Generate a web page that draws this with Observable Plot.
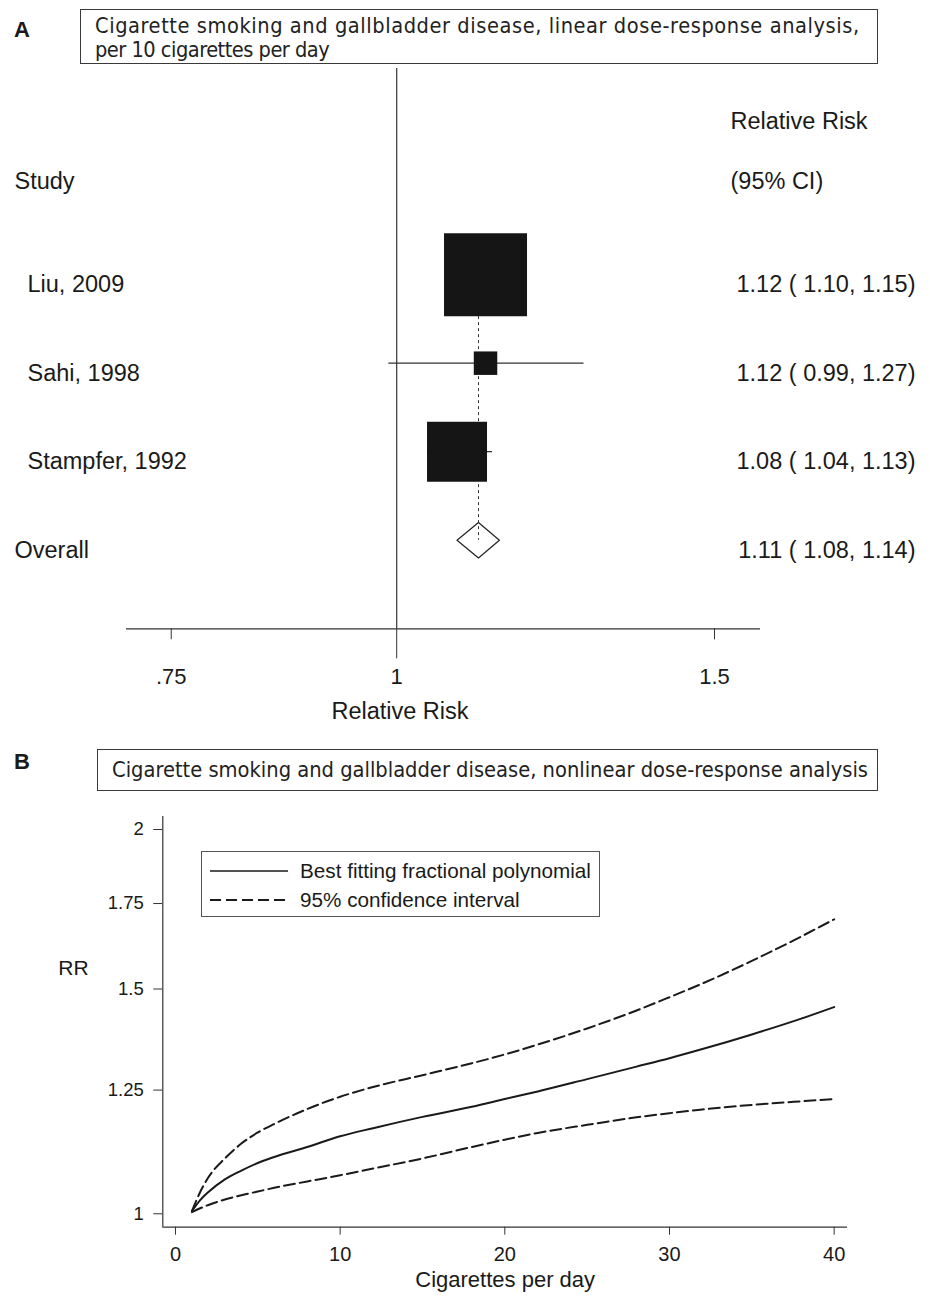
<!DOCTYPE html>
<html>
<head>
<meta charset="utf-8">
<script src="https://cdn.jsdelivr.net/npm/d3@7"></script>
<script src="https://cdn.jsdelivr.net/npm/@observablehq/plot@0.6"></script>
<style>
  body { margin: 0; background: #fff; }
  #page { position: relative; width: 930px; height: 1300px; overflow: hidden;
          font-family: "Liberation Sans", Arial, sans-serif; color: #1a1a1a; }
  .tag { position: absolute; left: 14px; font: bold 22px "Liberation Sans", Arial, sans-serif; line-height: 22px; }
  .title-box { position: absolute; box-sizing: border-box; border: 1.3px solid #3a3a3a;
               font-family: "DejaVu Sans Condensed", "DejaVu Sans", sans-serif;
               line-height: 24px; padding-left: 14px; color: #222; white-space: nowrap; }
  .panel { position: absolute; left: 0; }
  .panel svg { overflow: visible; }
  .legend { position: absolute; box-sizing: border-box; border: 1.2px solid #555; background: #fff;
            font-family: "Liberation Sans", Arial, sans-serif; font-size: 20.7px; color: #1a1a1a; }
  .legend .row { position: absolute; left: 0; height: 24px; line-height: 24px; white-space: nowrap; }
  .legend svg { position: absolute; left: 8px; top: 0; }
  .legend span { position: absolute; left: 98px; top: 0; }
</style>
</head>
<body>
<div id="page">
  <div class="tag" style="top:19px">A</div>
  <div class="title-box" style="left:80px;top:9px;width:798px;height:55px;padding-top:4px;font-size:21.6px">
    <span style="letter-spacing:0.58px">Cigarette smoking and gallbladder disease, linear dose-response analysis,</span><br><span style="letter-spacing:-0.5px">per 10 cigarettes per day</span>
  </div>
  <div class="tag" style="top:751px">B</div>
  <div class="title-box" style="left:97px;top:749px;width:781px;height:42px;padding-top:8px;font-size:21.7px">
    Cigarette smoking and gallbladder disease, nonlinear dose-response analysis
  </div>
  <div class="panel" id="panelA" style="top:68px"></div>
  <div class="panel" id="panelB" style="top:800px"></div>
</div>
<script>
// ---- Panel A: linear dose-response, per 10 cigarettes per day ----
const studies      = ["Liu, 2009", "Sahi, 1998", "Stampfer, 1992"];
const studyRR      = [1.12, 1.12, 1.08];
const studyLower   = [1.10, 0.99, 1.04];
const studyUpper   = [1.15, 1.27, 1.13];
const studyWeight  = [62.4, 5.0, 32.6];   // % weight, drives box area
const overallLabel = "Overall";
const overallRR    = 1.11;
const overallLower = 1.08;
const overallUpper = 1.14;
const forestTicks      = [0.75, 1, 1.5];
const forestTickLabels = [".75", "1", "1.5"];

// ---- Panel B: nonlinear dose-response (fractional polynomial) ----
const cigsPerDay = [1, 1.5, 2, 3, 4, 5, 6, 8, 10, 12, 15, 18, 20, 22, 25, 28, 30, 32, 35, 38, 40];
const rrFit      = [1.005, 1.025, 1.040, 1.064, 1.081, 1.096, 1.108, 1.128, 1.150, 1.167, 1.191, 1.213,
                    1.230, 1.247, 1.275, 1.304, 1.324, 1.346, 1.382, 1.422, 1.452];
const rrUpper    = [1.005, 1.040, 1.068, 1.105, 1.135, 1.158, 1.176, 1.208, 1.235, 1.257, 1.284, 1.312,
                    1.333, 1.357, 1.397, 1.443, 1.478, 1.515, 1.578, 1.649, 1.701];
const rrLower    = [1.003, 1.010, 1.016, 1.026, 1.034, 1.041, 1.048, 1.060, 1.072, 1.085, 1.105, 1.128,
                    1.143, 1.157, 1.174, 1.190, 1.199, 1.207, 1.217, 1.225, 1.230];
const xTicksB      = [0, 10, 20, 30, 40];
const yTicksB      = [1, 1.25, 1.5, 1.75, 2];
const yTickLabelsB = ["1", "1.25", "1.5", "1.75", "2"];
const legendLabels = ["Best fitting fractional polynomial", "95% confidence interval"];

const ink = "#1a1a1a";
const fontFamily = "'Liberation Sans', Arial, sans-serif";

// Forest plot rows
const rows = studies.map((name, i) => ({
  name, rr: studyRR[i], lo: studyLower[i], hi: studyUpper[i], w: studyWeight[i], row: i + 1
}));
const overallRow = rows.length + 1;
const axisRow = overallRow + 1;
const overall = {name: overallLabel, rr: overallRR, lo: overallLower, hi: overallUpper, row: overallRow};
const f2 = d3.format(".2f");
const ciText = d => `${f2(d.rr)} ( ${f2(d.lo)}, ${f2(d.hi)})`;
const halfDiamond = 0.2; // in row units
const diamond = [
  {x: overall.lo, y: overallRow},
  {x: overall.rr, y: overallRow - halfDiamond},
  {x: overall.hi, y: overallRow},
  {x: overall.rr, y: overallRow + halfDiamond},
  {x: overall.lo, y: overallRow}
];
const tickLabelA = new Map(forestTicks.map((t, i) => [t, forestTickLabels[i]]));
const mid = {textAnchor: "middle", lineAnchor: "middle"};

const plotA = Plot.plot({
  width: 930,
  height: 670,
  marginTop: 0,
  marginBottom: 109.7,
  marginLeft: 126,
  marginRight: 170,
  style: {fontFamily, color: ink, background: "transparent", overflow: "visible"},
  x: {type: "log", domain: [0.7084, 1.5907], label: null},
  y: {domain: [0, axisRow], range: [117.6, 560.3], axis: null, label: null},
  r: {type: "sqrt", domain: [0, 62.4], range: [0, 83 / Math.sqrt(Math.PI)]},
  marks: [
    // line of no effect and horizontal axis
    Plot.ruleX([1], {stroke: "#333", strokeWidth: 1.2}),
    Plot.ruleY([axisRow], {stroke: "#333", strokeWidth: 1.2}),
    Plot.axisX(forestTicks.filter(t => t !== 1), {tickSize: 11, tickFormat: () => "", stroke: "#333", label: null}),
    Plot.axisX([1], {tickSize: 30, tickFormat: () => "", stroke: "#333", label: null}),
    Plot.text(forestTicks, {x: d => d, text: d => tickLabelA.get(d), frameAnchor: "bottom", dy: 48.4, fontSize: 22, fill: ink, ...mid}),
    Plot.text(["Relative Risk"], {frameAnchor: "bottom", dx: -43.5, dy: 82.7, fontSize: 23.5, fill: ink, ...mid}),
    // pooled estimate
    Plot.line(diamond, {x: "x", y: "y", stroke: "#222", strokeWidth: 1.2, fill: "white"}),
    Plot.ruleX([overall.rr], {y1: 1, y2: overallRow, stroke: "#333", strokeWidth: 1, strokeDasharray: "3,3"}),
    // study estimates
    Plot.ruleY(rows, {y: "row", x1: "lo", x2: "hi", stroke: "#333", strokeWidth: 1.2}),
    Plot.dot(rows, {x: "rr", y: "row", r: "w", symbol: "square", fill: "#151515", stroke: "none"}),
    // table text
    Plot.text(["Relative Risk"], {y: () => 0, frameAnchor: "right", dx: -30, dy: -64.6, textAnchor: "start", lineAnchor: "middle", fontSize: 23.5, fill: ink}),
    Plot.text(["(95% CI)"], {y: () => 0, frameAnchor: "right", dx: -30, dy: -4.6, textAnchor: "start", lineAnchor: "middle", fontSize: 23.5, fill: ink}),
    Plot.text(["Study"], {y: () => 0, frameAnchor: "left", dx: -112, dy: -4.6, textAnchor: "start", lineAnchor: "middle", fontSize: 23.5, fill: ink}),
    Plot.text(rows, {y: "row", text: "name", frameAnchor: "left", dx: -99, dy: 10, textAnchor: "start", lineAnchor: "middle", fontSize: 23.5, fill: ink}),
    Plot.text([overall], {y: "row", text: "name", frameAnchor: "left", dx: -112, dy: 10, textAnchor: "start", lineAnchor: "middle", fontSize: 23.5, fill: ink}),
    Plot.text([...rows, overall], {y: "row", text: ciText, frameAnchor: "right", dx: 155, dy: 10, textAnchor: "end", lineAnchor: "middle", fontSize: 23.5, fill: ink})
  ]
});
document.getElementById("panelA").appendChild(plotA);

// Dose-response curves
const fit   = cigsPerDay.map((c, i) => ({c, rr: rrFit[i]}));
const upper = cigsPerDay.map((c, i) => ({c, rr: rrUpper[i]}));
const lower = cigsPerDay.map((c, i) => ({c, rr: rrLower[i]}));
const xDomainB = [-0.77, 40.81];
const yDomainB = [0.9761, 2.0475];
const tickLabelB = new Map(yTicksB.map((t, i) => [t, yTickLabelsB[i]]));
const dash = "11,5";

const plotB = Plot.plot({
  width: 930,
  height: 500,
  marginTop: 16,
  marginBottom: 73.3,
  marginLeft: 162.3,
  marginRight: 83,
  style: {fontFamily, color: ink, background: "transparent", overflow: "visible"},
  x: {domain: xDomainB, label: null},
  y: {type: "log", domain: yDomainB, label: null},
  marks: [
    Plot.ruleX([xDomainB[0]], {stroke: "#333", strokeWidth: 1.2}),
    Plot.ruleY([yDomainB[0]], {stroke: "#333", strokeWidth: 1.2}),
    Plot.axisY(yTicksB, {tickSize: 9, tickPadding: 10, tickFormat: d => tickLabelB.get(d), fontSize: 18.5, stroke: "#333", label: null}),
    Plot.axisX(xTicksB, {tickSize: 8, tickPadding: 12, fontSize: 20, stroke: "#333", label: null}),
    Plot.text(["Cigarettes per day"], {frameAnchor: "bottom", dy: 52.3, fontSize: 22, fill: ink, ...mid}),
    Plot.text(["RR"], {frameAnchor: "left", dx: -89.3, dy: -53.4, fontSize: 21, fill: ink, ...mid}),
    Plot.line(upper, {x: "c", y: "rr", stroke: ink, strokeWidth: 2, strokeDasharray: dash, curve: "monotone-x"}),
    Plot.line(lower, {x: "c", y: "rr", stroke: ink, strokeWidth: 2, strokeDasharray: dash, curve: "monotone-x"}),
    Plot.line(fit,   {x: "c", y: "rr", stroke: ink, strokeWidth: 2, curve: "monotone-x"})
  ]
});
document.getElementById("panelB").appendChild(plotB);

// Legend box inside panel B
const legend = document.createElement("div");
legend.className = "legend";
Object.assign(legend.style, {left: "201px", top: "851px", width: "399px", height: "66px"});
legendLabels.forEach((label, i) => {
  const row = document.createElement("div");
  row.className = "row";
  row.style.top = (7 + i * 29) + "px";
  row.style.width = "395px";
  row.innerHTML =
    `<svg width="80" height="24"><line x1="0" x2="78" y1="12" y2="12" stroke="${ink}" stroke-width="${i ? 2 : 1.6}"` +
    (i ? ` stroke-dasharray="${dash}"` : "") + `/></svg><span></span>`;
  row.querySelector("span").textContent = label;
  legend.appendChild(row);
});
document.getElementById("page").appendChild(legend);
</script>
</body>
</html>
